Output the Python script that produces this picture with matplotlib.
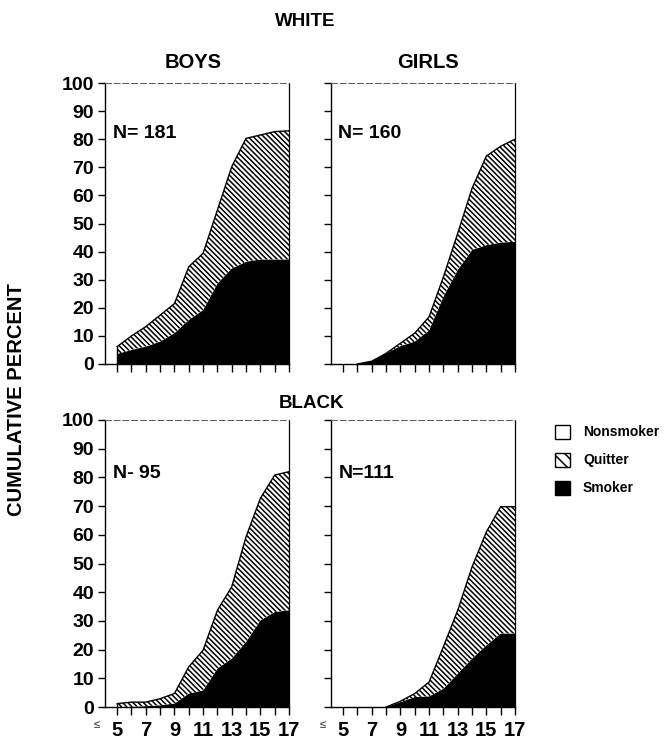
import numpy as np
import matplotlib
matplotlib.use('Agg')
import matplotlib.pyplot as plt
from matplotlib.patches import Rectangle
from matplotlib.collections import LineCollection

plt.rcParams['font.family'] = ['Liberation Sans', 'DejaVu Sans']
plt.rcParams['font.weight'] = 'bold'
plt.rcParams['hatch.linewidth'] = 1.1

# ---- Data (ages, cumulative percent) ---------------------
ages = [5, 6, 7, 8, 9, 10, 11, 12, 13, 14, 15, 16, 17]
age_labels = ['5', '', '7', '', '9', '', '11', '', '13', '', '15', '', '17']

# smoker = top of black area, ever = top of hatched (smoker + quitter)
white_boys_smoker = [3.6, 5, 6.2, 8, 11, 15.7, 19.2, 28.7, 34, 36.4, 37.2, 37.2, 37.2]
white_boys_ever = [6.2, 10, 13.3, 17.4, 21.5, 34.6, 39.4, 54.8, 70.2, 80.3, 81.5, 82.7, 83]
white_girls_smoker = [None, 0, 1, 3.8, 6.4, 8, 12, 24, 33.5, 40.6, 42.3, 43.2, 43.5]
white_girls_ever = [None, 0, 1, 3.8, 7.4, 11, 16.8, 31, 46.5, 62.5, 74, 77.5, 80]
black_boys_smoker = [0, 0, 0.3, 0.6, 1.2, 4.7, 5.8, 13.4, 16.9, 22.7, 30.2, 33.1, 33.7]
black_boys_ever = [1.2, 1.7, 1.7, 2.9, 4.7, 14, 19.8, 33.7, 41.9, 59.3, 72.7, 80.8, 82]
black_girls_smoker = [None, None, None, 0, 1.7, 3.5, 3.7, 6.4, 11.6, 16.9, 21.5, 25.6, 25.6]
black_girls_ever = [None, None, None, 0, 2, 4.7, 8.7, 21, 33.7, 48.8, 61, 69.8, 69.8]

panels = [
    ('white_boys', white_boys_smoker, white_boys_ever, 'N= 181'),
    ('white_girls', white_girls_smoker, white_girls_ever, 'N= 160'),
    ('black_boys', black_boys_smoker, black_boys_ever, 'N- 95'),
    ('black_girls', black_girls_smoker, black_girls_ever, 'N=111'),
]

# ---- Figure ----------------------------------------------
W, H = 665, 741
fig = plt.figure(figsize=(W / 100, H / 100), dpi=100)

boxes = [(105, 289, 83, 364), (331, 515, 83, 364),
         (105, 289, 420, 707), (331, 515, 420, 707)]
n_pos = [(0.045, 0.804), (0.04, 0.804), (0.045, 0.798), (0.04, 0.798)]
hatch_gap = 5.2  # pixels between hatch lines (horizontal)

for i, (name, smoker, ever, ntext) in enumerate(panels):
    x0, x1, yt, yb = boxes[i]
    aw, ah = x1 - x0, yb - yt
    ax = fig.add_axes([x0 / W, 1 - yb / H, aw / W, ah / H])
    idx = [k for k, v in enumerate(smoker) if v is not None]
    xs = np.array([ages[k] for k in idx])
    s = np.array([smoker[k] for k in idx])
    e = np.array([ever[k] for k in idx])
    ax.fill_between(xs, 0, s, facecolor='black', edgecolor='black', lw=0.8)
    quit_poly = ax.fill_between(xs, s, e, facecolor='white', lw=0)

    # hand-made "\\" hatching, clipped to the quitter band
    us = np.arange(-ah / aw - 0.05, 1.05, hatch_gap / aw)
    segs = [[(u, 1.0), (u + ah / aw, 0.0)] for u in us]
    lc = LineCollection(segs, colors='black', linewidths=1.1, transform=ax.transAxes)
    ax.add_collection(lc)
    lc.set_clip_path(quit_poly.get_paths()[0], ax.transData)

    ax.plot(xs, e, color='black', lw=1.0)
    ax.plot([xs[0], xs[0]], [0, e[0]], color='black', lw=1.0)

    ax.set_xlim(4.15, 17)
    ax.set_ylim(0, 100)
    ax.set_xticks(ages)
    ax.set_yticks(range(0, 101, 10))
    ax.tick_params(axis='both', direction='out', width=1.0, color='black')
    ax.tick_params(axis='y', length=5, pad=3, labelsize=14)
    ax.tick_params(axis='x', length=6, pad=4, labelsize=14.5)
    if i >= 2:
        ax.set_xticklabels(age_labels)
        ax.annotate('\u2264', xy=(5, 0), xycoords=('data', 'axes fraction'),
                    xytext=(-20, -18), textcoords='offset pixels',
                    ha='center', va='center', fontsize=8, color='0.35')
    else:
        ax.set_xticklabels([])
    if i % 2 == 1:
        ax.set_yticklabels([])
    for lab in ax.get_xticklabels() + ax.get_yticklabels():
        lab.set_fontweight('bold')
    for sp in ['left', 'bottom']:
        ax.spines[sp].set_linewidth(1.0)
    ax.spines['top'].set_linewidth(0.7)
    ax.spines['top'].set_color('0.35')
    ax.spines['top'].set_linestyle((0, (6, 3)))
    ax.spines['right'].set_linewidth(0.9)
    ax.text(n_pos[i][0], n_pos[i][1], ntext, transform=ax.transAxes, fontsize=14,
            fontweight='bold', ha='left', va='baseline')

# ---- Titles ----------------------------------------------
fig.text(305 / W, 1 - 22 / H, 'WHITE', ha='center', va='center', fontsize=13.5, fontweight='bold')
fig.text(311 / W, 1 - 404 / H, 'BLACK', ha='center', va='center', fontsize=13.5, fontweight='bold')
fig.text(193 / W, 1 - 63 / H, 'BOYS', ha='center', va='center', fontsize=14.5, fontweight='bold')
fig.text(428 / W, 1 - 63 / H, 'GIRLS', ha='center', va='center', fontsize=14.5, fontweight='bold')
fig.text(17 / W, 1 - 400 / H, 'CUMULATIVE PERCENT', ha='center', va='center',
         rotation=90, fontsize=14.5, fontweight='bold')

# ---- Legend ----------------------------------------------
leg_items = [('Nonsmoker', 'white', None), ('Quitter', 'white', '\\\\\\'), ('Smoker', 'black', None)]
leg_y = [432, 460, 488]
for (lab, fc, hatch), yy in zip(leg_items, leg_y):
    rect = Rectangle((555 / W, 1 - (yy + 7) / H), 15 / W, 14 / H, transform=fig.transFigure,
                     facecolor=fc, edgecolor='black', lw=1.0, hatch=hatch)
    fig.patches.append(rect)
    fig.text(583 / W, 1 - yy / H, lab, ha='left', va='center', fontsize=10, fontweight='bold')

fig.savefig('out.png', dpi=100)
